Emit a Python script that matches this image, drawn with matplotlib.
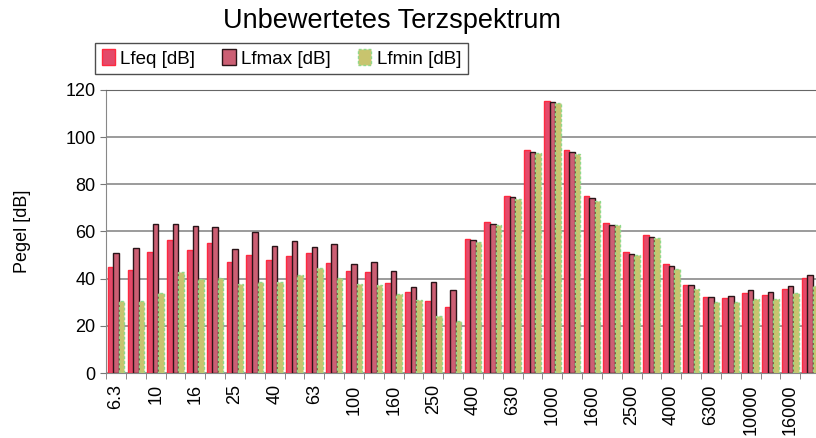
import numpy as np
from matplotlib import pyplot as plt

plt.rcParams['font.family'] = ['Liberation Sans', 'DejaVu Sans']

bands = ["6.3", "8", "10", "12.5", "16", "20", "25", "31.5", "40", "50",
         "63", "80", "100", "125", "160", "200", "250", "315", "400", "500",
         "630", "800", "1000", "1250", "1600", "2000", "2500", "3150", "4000",
         "5000", "6300", "8000", "10000", "12500", "16000", "20000"]

lfeq = [44.8, 43.5, 51.2, 56.3, 52.0, 55.2, 46.9, 49.9, 48.1, 49.5,
        50.9, 46.7, 43.3, 42.8, 38.1, 34.4, 30.7, 28.2, 56.8, 64.0,
        75.2, 94.5, 115.3, 94.5, 75.0, 63.4, 51.3, 58.4, 46.1, 37.3,
        32.3, 32.0, 33.8, 33.1, 35.5, 40.1]
lfmax = [50.9, 53.0, 63.0, 63.2, 62.3, 62.0, 52.4, 59.7, 53.8, 55.8,
         53.3, 54.9, 46.2, 47.2, 43.1, 36.4, 38.5, 35.3, 56.2, 63.3,
         74.5, 93.8, 115.0, 93.8, 74.2, 62.8, 50.4, 57.7, 45.4, 37.3,
         32.4, 32.7, 35.2, 34.4, 36.9, 41.4]
lfmin = [30.7, 30.6, 34.1, 42.7, 39.7, 40.3, 37.7, 38.5, 38.5, 41.7,
         44.6, 40.2, 37.7, 37.4, 33.6, 31.0, 24.3, 22.2, 55.5, 62.7,
         73.9, 93.3, 114.6, 93.0, 73.0, 62.7, 50.0, 57.3, 44.0, 35.7,
         30.3, 30.3, 31.6, 31.3, 33.8, 36.9]

fig = plt.figure(figsize=(8.16, 4.38), dpi=100)
ax = fig.add_axes([0.13, 0.148, 0.875, 0.647])

x = np.arange(len(bands))
w = 0.28
ax.bar(x - w, lfeq, w, color="#e44a6a", edgecolor="#ff2a40", linewidth=1.0,
       label="Lfeq [dB]", zorder=3)
ax.bar(x, lfmax, w, color="#cc5f74", edgecolor="#2a1418", linewidth=1.0,
       label="Lfmax [dB]", zorder=3)
ax.bar(x + w, lfmin, w, color="#c8c46e", edgecolor="#8fd98a", linewidth=1.0,
       linestyle=(0, (2, 1.5)), label="Lfmin [dB]", zorder=3)

ax.set_ylim(0, 120)
ax.set_xlim(-0.5, len(bands) - 0.5)
ax.set_yticks(range(0, 121, 20))
ax.yaxis.grid(True, color="#8a8a8a", linewidth=1.2, zorder=0)
ax.tick_params(axis="y", labelsize=13, length=4, color="#777777")

ax.set_xticks(x[::2])
ax.set_xticklabels(bands[::2], rotation=90, fontsize=13)
ax.set_xticks(np.arange(len(bands) + 1) - 0.5, minor=True)
ax.tick_params(axis="x", which="major", length=0, pad=8)
ax.tick_params(axis="x", which="minor", length=4, color="#777777")

ax.spines["right"].set_visible(False)
ax.spines["top"].set_color("#666666")
ax.spines["left"].set_color("#888888")
ax.spines["bottom"].set_color("#888888")

ax.set_ylabel("Pegel [dB]", fontsize=13)
ax.yaxis.set_label_coords(-0.105, 0.5)
fig.text(0.48, 0.953, "Unbewertetes Terzspektrum", ha="center", va="center",
         fontsize=19.5)

leg = fig.legend(loc="center", bbox_to_anchor=(0.1164, 0.8265, 0.457, 0.08),
                 mode="expand", ncol=3, fontsize=13.5, frameon=True,
                 fancybox=False, edgecolor="#222222",
                 handlelength=0.7, handleheight=0.9, handletextpad=0.3,
                 borderpad=0.35, borderaxespad=0)
leg.get_frame().set_linewidth(1.0)

plt.savefig("out.png", dpi=100)
